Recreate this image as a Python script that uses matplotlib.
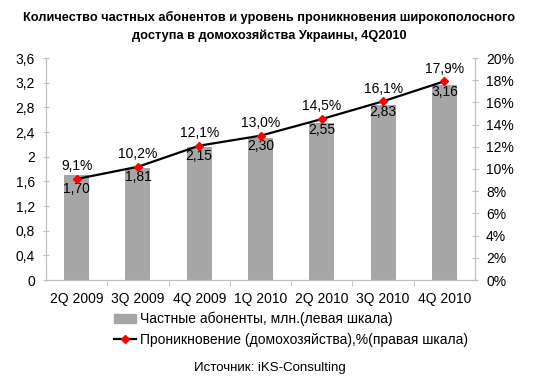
import matplotlib
matplotlib.use("Agg")
import matplotlib.pyplot as plt
from matplotlib.patches import Patch
from matplotlib.lines import Line2D

plt.rcParams['font.family'] = ['Liberation Sans', 'DejaVu Sans']

quarters = ['2Q 2009', '3Q 2009', '4Q 2009', '1Q 2010', '2Q 2010', '3Q 2010', '4Q 2010']
subscribers = [1.70, 1.81, 2.15, 2.30, 2.55, 2.83, 3.16]
penetration = [9.1, 10.2, 12.1, 13.0, 14.5, 16.1, 17.9]
left_ticks = [0, 0.4, 0.8, 1.2, 1.6, 2, 2.4, 2.8, 3.2, 3.6]
right_ticks = [0, 2, 4, 6, 8, 10, 12, 14, 16, 18, 20]

axis_col = '#BFBFBF'

fig = plt.figure(figsize=(5.39, 3.77), dpi=100)
ax = fig.add_axes([46/539, 1 - 280/377, 429/539, 222/377])
ax2 = ax.twinx()

x = list(range(len(quarters)))
ax.bar(x, subscribers, width=0.41, color='#A6A6A6', zorder=2)
ax.set_xlim(-0.5, len(quarters) - 0.5)
ax.set_ylim(0, 3.6)
ax.set_yticks(left_ticks)
ax.set_yticklabels([('%g' % v).replace('.', ',') for v in left_ticks])
ax.set_xticks(x)
ax.set_xticklabels(quarters)
ax.set_xticks([i + 0.5 for i in x[:-1]], minor=True)
ax.tick_params(axis='x', which='major', length=0, pad=9)
ax.tick_params(axis='x', which='minor', length=4, direction='out', color=axis_col)
ax.tick_params(axis='y', length=4, direction='inout', color=axis_col, pad=6)

ax2.plot(x, penetration, color='black', lw=1.6, marker='D', ms=4,
         mfc='red', mec='red', zorder=4)
ax2.set_ylim(0, 20)
ax2.set_yticks(right_ticks)
ax2.set_yticklabels(['%d%%' % v for v in right_ticks])
ax2.tick_params(axis='y', length=4, direction='inout', color=axis_col, pad=6)

for a in (ax, ax2):
    a.spines['top'].set_visible(False)
    for s in ('left', 'right', 'bottom'):
        a.spines[s].set_color(axis_col)
    a.tick_params(labelsize=10)

for i in x:
    ax2.annotate(('%.1f%%' % penetration[i]).replace('.', ','), (i, penetration[i]),
                 xytext=(0, 4), textcoords='offset points', ha='center', va='bottom',
                 fontsize=10)
    ax2.annotate(('%.2f' % subscribers[i]).replace('.', ','), (i, penetration[i]),
                 xytext=(0, -2.5), textcoords='offset points', ha='center', va='top',
                 fontsize=10)

fig.text(0.5, 1 - 17/377, 'Количество частных абонентов и уровень проникновения широкополосного',
         ha='center', va='center', fontsize=9.2, fontweight='bold')
fig.text(0.5, 1 - 36/377, 'доступа в домохозяйства Украины, 4Q2010',
         ha='center', va='center', fontsize=9.2, fontweight='bold')

handles = [Patch(color='#A6A6A6'),
           Line2D([], [], color='black', lw=1.6, marker='D', ms=4, mfc='red', mec='red')]
labels = ['Частные абоненты, млн.(левая шкала)',
          'Проникновение (домохозяйства),%(правая шкала)']
fig.legend(handles, labels, loc='upper left', bbox_to_anchor=(114/539, 1 - 312/377),
           frameon=False, fontsize=10, handlelength=1.6, handletextpad=0.3,
           labelspacing=0.45, borderpad=0, borderaxespad=0)

fig.text(0.5, 1 - 368/377, 'Источник: iKS-Consulting', ha='center', va='center', fontsize=9.5)

fig.savefig('out.png', dpi=100)
